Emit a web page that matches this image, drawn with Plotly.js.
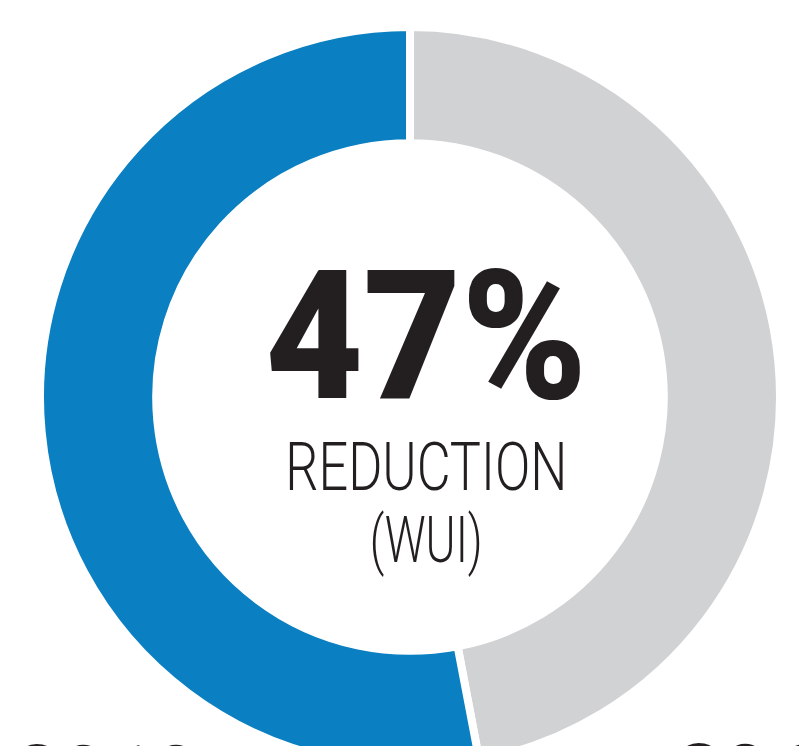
<!DOCTYPE html>
<html>
<head>
<meta charset="utf-8">
<script src="https://cdn.plot.ly/plotly-3.0.1.min.js"></script>
<style>
html, body { margin: 0; padding: 0; background: #ffffff; overflow: hidden; }
#chart { width: 799px; height: 880px; }
</style>
</head>
<body>
<div id="chart"></div>
<script>
// Data
const sliceLabels = ["2015", "2010"];
const sliceValues = [47, 53];
const sliceColors = ["#d1d2d4", "#0a7fc1"];
const centerValue = "47%";
const centerLine1 = "REDUCTION";
const centerLine2 = "(WUI)";

const W = 799, H = 880;
const cx = 410, cy = 397, R = 370;

const trace = {
  type: "pie",
  labels: sliceLabels,
  values: sliceValues,
  sort: false,
  direction: "clockwise",
  rotation: 0,
  hole: 0.686,
  textinfo: "none",
  hoverinfo: "none",
  showlegend: false,
  marker: { colors: sliceColors, line: { color: "#ffffff", width: 8 } },
  domain: {
    x: [(cx - R) / W, (cx + R) / W],
    y: [(H - (cy + R)) / H, (H - (cy - R)) / H]
  }
};

const ink = "#231f20";
const boldFont = "Roboto, 'Liberation Sans', sans-serif";
const lightFont = "Roboto, 'Liberation Sans', sans-serif";
const layout = {
  width: W, height: H,
  margin: { l: 0, r: 0, t: 0, b: 0 },
  paper_bgcolor: "#ffffff",
  showlegend: false,
  annotations: [
    { text: centerValue, xref: "paper", yref: "paper", x: 426 / W, y: (H - 336) / H,
      xanchor: "center", yanchor: "middle", showarrow: false,
      font: { family: boldFont, size: 180, color: ink, weight: 900 } },
    { text: centerLine1, xref: "paper", yref: "paper", x: 426 / W, y: (H - 468) / H,
      xanchor: "center", yanchor: "middle", showarrow: false,
      font: { family: lightFont, size: 66, color: ink, weight: 300 } },
    { text: centerLine2, xref: "paper", yref: "paper", x: 426 / W, y: (H - 540) / H,
      xanchor: "center", yanchor: "middle", showarrow: false,
      font: { family: lightFont, size: 64, color: ink, weight: 300 } },
    { text: sliceLabels[1], xref: "paper", yref: "paper", x: 12 / W, y: (H - 775) / H,
      xanchor: "left", yanchor: "middle", showarrow: false,
      font: { family: boldFont, size: 80, color: ink, weight: 900 } },
    { text: sliceLabels[0], xref: "paper", yref: "paper", x: 674 / W, y: (H - 774) / H,
      xanchor: "left", yanchor: "middle", showarrow: false,
      font: { family: boldFont, size: 80, color: ink, weight: 900 } }
  ]
};

// target widths of the condensed centre texts (px)
const condensed = { "47%": 322, "REDUCTION": 282, "(WUI)": 113 };

Plotly.newPlot("chart", [trace], layout, { staticPlot: true, displayModeBar: false }).then(function (gd) {
  gd.querySelectorAll("text.annotation-text").forEach(function (t) {
    const w = condensed[t.textContent];
    if (w) {
      t.setAttribute("textLength", w);
      t.setAttribute("lengthAdjust", "spacingAndGlyphs");
    }
  });
});
</script>
</body>
</html>
